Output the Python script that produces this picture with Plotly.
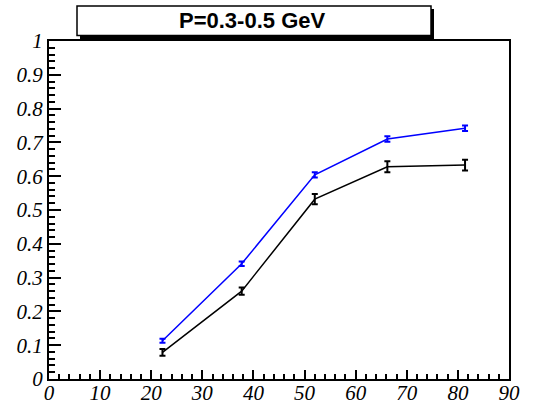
import plotly.graph_objects as go

x_vals = [22.2, 37.7, 52.0, 66.2, 81.4]
blue_y = [0.113, 0.341, 0.604, 0.710, 0.742]
blue_err = [0.006, 0.007, 0.008, 0.008, 0.008]
black_y = [0.079, 0.260, 0.532, 0.628, 0.633]
black_err = [0.010, 0.011, 0.015, 0.016, 0.016]
title_text = "P=0.3-0.5 GeV"
x_ticks = [0, 10, 20, 30, 40, 50, 60, 70, 80, 90]
x_ticklabels = ["0", "10", "20", "30", "40", "50", "60", "70", "80", "90"]
y_ticks = [0, 0.1, 0.2, 0.3, 0.4, 0.5, 0.6, 0.7, 0.8, 0.9, 1.0]
y_ticklabels = ["0", "0.1", "0.2", "0.3", "0.4", "0.5", "0.6", "0.7", "0.8", "0.9", "1"]

W, H = 533, 405
L, R, T, B = 49, 24, 41, 26
pw, ph = W - L - R, H - T - B

def px(x):
    return (x - L) / pw

def py(y):
    return (H - B - y) / ph

fig = go.Figure()
fig.add_trace(go.Scatter(
    x=x_vals, y=black_y, mode="lines",
    line=dict(color="black", width=1.5),
    error_y=dict(type="data", array=black_err, color="black", thickness=2, width=3),
    showlegend=False))
fig.add_trace(go.Scatter(
    x=x_vals, y=blue_y, mode="lines",
    line=dict(color="#0000ff", width=1.5),
    error_y=dict(type="data", array=blue_err, color="#0000ff", thickness=2, width=3),
    showlegend=False))

tickfont = dict(family="Liberation Serif", size=21, color="black", style="italic")
fig.update_xaxes(range=[0, 90], tickmode="array", tickvals=x_ticks,
                 ticktext=x_ticklabels,
                 showgrid=False, zeroline=False, automargin=False,
                 showline=True, linecolor="black", linewidth=2, mirror=True,
                 ticks="inside", ticklen=9, tickwidth=1.5, tickcolor="black",
                 ticklabelstandoff=-6,
                 minor=dict(dtick=2, tick0=0, ticks="inside", ticklen=5, tickwidth=1.5, tickcolor="black"),
                 tickfont=tickfont)
fig.update_yaxes(range=[0, 1], tickmode="array", tickvals=y_ticks,
                 ticktext=y_ticklabels,
                 showgrid=False, zeroline=False, automargin=False,
                 showline=True, linecolor="black", linewidth=2, mirror=True,
                 ticks="inside", ticklen=12, tickwidth=1.5, tickcolor="black",
                 minor=dict(dtick=0.02, tick0=0, ticks="inside", ticklen=6, tickwidth=1.5, tickcolor="black"),
                 tickfont=tickfont)

# title box shadow and box
fig.add_shape(type="rect", xref="paper", yref="paper",
              x0=px(80), x1=px(434), y0=py(39), y1=py(9),
              fillcolor="black", line=dict(width=0), layer="above")
fig.add_shape(type="rect", xref="paper", yref="paper",
              x0=px(77), x1=px(431), y0=py(35.5), y1=py(6),
              fillcolor="white", line=dict(color="black", width=1.5), layer="above")
fig.add_annotation(text="<b>" + title_text + "</b>", xref="paper", yref="paper",
                   x=px(252), y=py(21), showarrow=False,
                   font=dict(family="Liberation Sans", size=22, color="black"),
                   xanchor="center", yanchor="middle")

fig.update_layout(width=W, height=H, margin=dict(l=L, r=R, t=T, b=B),
                  paper_bgcolor="white", plot_bgcolor="white")
fig.write_html("out.html")
